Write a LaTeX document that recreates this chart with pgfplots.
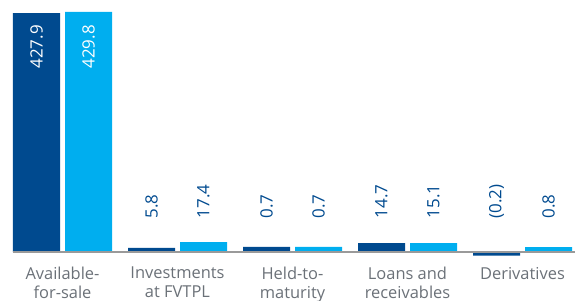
\documentclass[border=0pt]{standalone}
\usepackage{fontspec}
\setmainfont{Open Sans}
\usepackage{pgfplots}
\pgfplotsset{compat=1.18}
\definecolor{dkblue}{HTML}{004A8F}
\definecolor{ltblue}{HTML}{00AEEF}
\definecolor{txtgray}{HTML}{6B7178}
\definecolor{linegray}{HTML}{9A9A9A}
\begin{document}
\begin{tikzpicture}
\begin{axis}[
  scale only axis, width=575bp, height=252bp,
  xmin=-0.543478, xmax=4.456522, ymin=0, ymax=451.2,
  axis line style={draw=none}, ytick=\empty,
  xtick={0,1,2,3,4}, major tick length=0pt,
  xticklabels={Available-\\for-sale, Investments\\at FVTPL, Held-to-\\maturity, Loans and\\receivables, Derivatives},
  xticklabel style={align=center, text=txtgray, font=\fontsize{16.5}{18.5}\selectfont, inner sep=0pt, anchor=north, yshift=-15bp},
  clip=false,
]
% bar heights as drawn (small bars are given a minimum visible height in the reference)
\addplot[ybar, bar width=0.408696, bar shift=-0.226087, fill=dkblue, draw=none] coordinates {(0,427.9) (1,7.2) (2,9) (3,16.1) (4,-6.3)};
\addplot[ybar, bar width=0.408696, bar shift=0.226087, fill=ltblue, draw=none] coordinates {(0,429.8) (1,17.9) (2,9) (3,16.1) (4,8.8)};
% value labels inside the tall bars
\addplot[draw=none, mark=none, nodes near coords, point meta=explicit symbolic,
  every node near coord/.style={anchor=east, rotate=90, inner sep=0pt, text=white, font=\fontsize{17}{20}\selectfont}]
  coordinates {(-0.226087,406.4) [427.9] (0.226087,406.4) [429.8]};
% value labels above the small bars
\addplot[draw=none, mark=none, nodes near coords, point meta=explicit symbolic,
  every node near coord/.style={anchor=west, rotate=90, inner sep=0pt, text=dkblue, font=\fontsize{17}{20}\selectfont}]
  coordinates {(0.773913,60) [5.8] (1.226087,60) [17.4] (1.773913,60) [0.7] (2.226087,60) [0.7] (2.773913,60) [14.7] (3.226087,60) [15.1] (3.773913,60) [(0.2)] (4.226087,60) [0.8]};
\draw[linegray, line width=1.2bp] (axis cs:-0.430435,0) -- (axis cs:4.456522,0);
\end{axis}
\pgfresetboundingbox
\path[use as bounding box] ([yshift=-49bp]current axis.south west) rectangle (current axis.north east);
\end{tikzpicture}
\end{document}
